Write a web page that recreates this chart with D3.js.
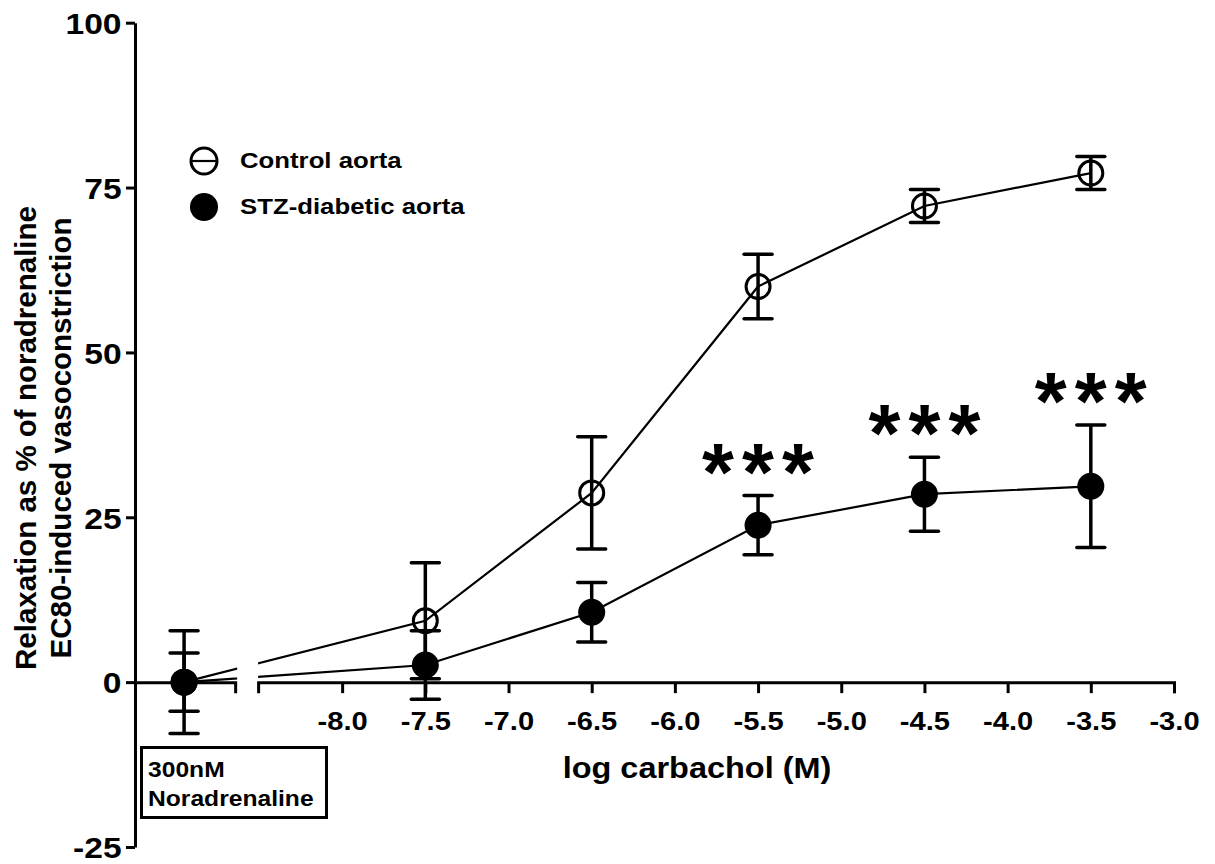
<!DOCTYPE html>
<html>
<head>
<meta charset="utf-8">
<script src="https://cdn.jsdelivr.net/npm/d3@7"></script>
<style>
  body { margin: 0; background: #fff; }
  svg { display: block; }
  text { font-family: "Liberation Sans", Arial, sans-serif; font-weight: bold; fill: #000; }
</style>
</head>
<body>
<svg id="chart" width="1215" height="864"></svg>
<script>
// log carbachol concentrations (M)
const logConc = [-7.5, -6.5, -5.5, -4.5, -3.5];
const controlMean = [9.3, 28.7, 60.0, 72.2, 77.2];
const controlSem = [8.8, 8.5, 4.9, 2.5, 2.5];
const diabeticMean = [2.6, 10.6, 23.8, 28.5, 29.7];
const diabeticSem = [5.2, 4.5, 4.5, 5.6, 9.3];
const significance = ['', '', '***', '***', '***'];

// noradrenaline-only baseline, drawn left of the axis break
const baselineX = -8.95;
const baselineMean = [0, 0];
const baselineSem = [7.8, 4.4];

const xTicks = [-8.0, -7.5, -7.0, -6.5, -6.0, -5.5, -5.0, -4.5, -4.0, -3.5, -3.0];
const yTicks = [-25, 0, 25, 50, 75, 100];
const seriesNames = ['Control aorta', 'STZ-diabetic aorta'];

const width = 1215;
const height = 864;
const stretch = 1.12; // reference text is a bit wide

const svg = d3.select('#chart');

const x = d3.scaleLinear().domain([-9.245, -3.0]).range([135, 1174]);
const y = d3.scaleLinear().domain([-25, 100]).range([847, 22.7]);

const breakStart = -8.643;
const breakEnd = -8.505;

const hyphen = (s) => s.replace('\u2212', '-');

function label(g, px, py, str, size, anchor) {
  return g.append('text')
    .attr('transform', `translate(${px},${py}) scale(${stretch},1)`)
    .attr('text-anchor', anchor || 'start')
    .style('font-size', size + 'px')
    .text(str);
}

// clip lines so they break at the axis gap
const defs = svg.append('defs');
const clip = defs.append('clipPath').attr('id', 'gap-clip');
clip.append('rect').attr('x', 0).attr('y', 0)
  .attr('width', x(breakStart) + 2).attr('height', height);
clip.append('rect').attr('x', x(breakEnd)).attr('y', 0)
  .attr('width', width - x(breakEnd)).attr('height', height);

// axes
const yAxis = svg.append('g')
  .attr('transform', `translate(${x.range()[0]},0)`)
  .call(d3.axisLeft(y).tickValues(yTicks).tickSize(9).tickSizeOuter(0).tickFormat((d) => String(d)));

yAxis.select('.domain').attr('stroke-width', 3);
yAxis.selectAll('.tick line').attr('stroke-width', 3);
yAxis.selectAll('.tick text')
  .attr('x', -12)
  .attr('dy', '0.36em')
  .attr('transform', `scale(${stretch},1)`)
  .style('font-size', '30px')
  .style('font-family', '"Liberation Sans", Arial, sans-serif')
  .style('font-weight', 'bold');

const xLeft = x.copy().domain([x.domain()[0], breakStart]).range([x.range()[0], x(breakStart)]);
const xRight = x.copy().domain([breakEnd, -3.0]).range([x(breakEnd), x(-3.0)]);

const xAxisLeft = svg.append('g')
  .attr('transform', `translate(0,${y(0)})`)
  .call(d3.axisBottom(xLeft).tickValues([]).tickSizeOuter(11));

const xAxisRight = svg.append('g')
  .attr('transform', `translate(0,${y(0)})`)
  .call(d3.axisBottom(xRight).tickValues(xTicks).tickSize(11).tickSizeOuter(11)
    .tickFormat((d) => hyphen(d3.format('.1f')(d))));

[xAxisLeft, xAxisRight].forEach((g) => {
  g.select('.domain').attr('stroke-width', 3);
  g.selectAll('.tick line').attr('stroke-width', 3);
});

xAxisRight.selectAll('.tick text')
  .attr('y', 0)
  .attr('dy', 0)
  .attr('transform', `translate(0,48) scale(${stretch},1)`)
  .style('font-size', '26px')
  .style('font-family', '"Liberation Sans", Arial, sans-serif')
  .style('font-weight', 'bold');

// axis titles
label(svg, 697, 778, 'log carbachol (M)', 29, 'middle');

const yTitle = svg.append('g').attr('transform', 'translate(0,438) rotate(-90)');
yTitle.append('text').attr('x', 0).attr('y', 36).attr('text-anchor', 'middle')
  .style('font-size', '29.5px').text('Relaxation as % of noradrenaline');
yTitle.append('text').attr('x', 0).attr('y', 71).attr('text-anchor', 'middle')
  .style('font-size', '29.5px').text('EC80-induced vasoconstriction');

// build series
const control = [{ x: baselineX, m: baselineMean[0], s: baselineSem[0] }]
  .concat(logConc.map((c, i) => ({ x: c, m: controlMean[i], s: controlSem[i] })));
const diabetic = [{ x: baselineX, m: baselineMean[1], s: baselineSem[1] }]
  .concat(logConc.map((c, i) => ({ x: c, m: diabeticMean[i], s: diabeticSem[i], sig: significance[i] })));

const line = d3.line()
  .x((d) => x(d.x))
  .y((d) => y(d.m));

const plot = svg.append('g');

[control, diabetic].forEach((data) => {
  plot.append('path')
    .datum(data)
    .attr('clip-path', 'url(#gap-clip)')
    .attr('d', line)
    .attr('fill', 'none')
    .attr('stroke', '#000')
    .attr('stroke-width', 2.2);
});

function errorBars(data) {
  const g = plot.append('g');
  const capW = 14;
  data.forEach((d) => {
    const cx = x(d.x);
    g.append('line')
      .attr('x1', cx).attr('x2', cx)
      .attr('y1', y(d.m + d.s)).attr('y2', y(d.m - d.s))
      .attr('stroke', '#000').attr('stroke-width', 3.5);
    [d.m + d.s, d.m - d.s].forEach((v) => {
      g.append('line')
        .attr('x1', cx - capW).attr('x2', cx + capW)
        .attr('y1', y(v)).attr('y2', y(v))
        .attr('stroke', '#000').attr('stroke-width', 3.5)
        .attr('stroke-linecap', 'round');
    });
  });
}

errorBars(control);
errorBars(diabetic);

plot.append('g').selectAll('circle')
  .data(control)
  .enter()
  .append('circle')
  .attr('cx', (d) => x(d.x))
  .attr('cy', (d) => y(d.m))
  .attr('r', 12)
  .attr('fill', 'none')
  .attr('stroke', '#000')
  .attr('stroke-width', 3);

plot.append('g').selectAll('circle')
  .data(diabetic)
  .enter()
  .append('circle')
  .attr('cx', (d) => x(d.x))
  .attr('cy', (d) => y(d.m))
  .attr('r', 13.5)
  .attr('fill', '#000');

// significance stars above diabetic error bars
diabetic.filter((d) => d.sig).forEach((d) => {
  const cx = x(d.x);
  const by = y(d.m + d.s) + 4;
  [-40, 0, 40].forEach((off) => {
    svg.append('text')
      .attr('x', cx + off)
      .attr('y', by)
      .attr('text-anchor', 'middle')
      .style('font-size', '82px')
      .text('*');
  });
});

// legend
const legend = svg.append('g');
const legendRows = [
  { name: seriesNames[0], cy: 161, open: true },
  { name: seriesNames[1], cy: 207, open: false },
];
legendRows.forEach((r) => {
  legend.append('line')
    .attr('x1', 190).attr('x2', 218)
    .attr('y1', r.cy).attr('y2', r.cy)
    .attr('stroke', '#000').attr('stroke-width', 2.2);
  legend.append('circle')
    .attr('cx', 204).attr('cy', r.cy)
    .attr('r', r.open ? 13 : 14)
    .attr('fill', r.open ? 'none' : '#000')
    .attr('stroke', '#000')
    .attr('stroke-width', r.open ? 3 : 0);
  label(legend, 240, r.cy + 7, r.name, 23);
});

// noradrenaline box
const box = svg.append('g');
box.append('rect')
  .attr('x', 141.5).attr('y', 747.5)
  .attr('width', 185).attr('height', 70)
  .attr('fill', 'none')
  .attr('stroke', '#000')
  .attr('stroke-width', 3);
label(box, 148, 777, '300nM', 22);
label(box, 148, 806, 'Noradrenaline', 22);
</script>
</body>
</html>
